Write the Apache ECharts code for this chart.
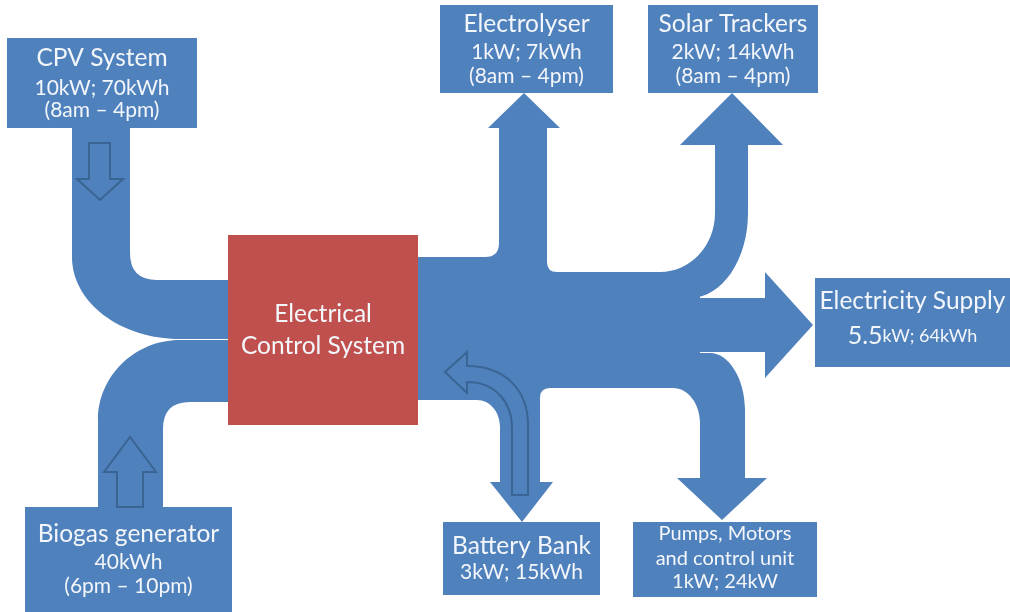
<!DOCTYPE html>
<html><head><meta charset="utf-8">
<script src="https://cdn.jsdelivr.net/npm/echarts@6/dist/echarts.min.js"></script>
<style>html,body{margin:0;padding:0;background:#fff}#c{width:1010px;height:612px}</style>
</head><body><div id="c"></div>
<script>
// ---------- DATA ----------
const nodeNames = ['CPV System', 'Electrolyser', 'Solar Trackers', 'Electricity Supply',
  'Pumps, Motors\nand control unit', 'Battery Bank', 'Biogas generator', 'Electrical\nControl System'];
const nodePowerKW = [10, 1, 2, 5.5, 1, 3, null, null];
const nodeEnergy = ['70kWh', '7kWh', '14kWh', '64kWh', '24kW', '15kWh', '40kWh', null];
const nodeHours = ['8am – 4pm', '8am – 4pm', '8am – 4pm', null, null, null, '6pm – 10pm', null];
const flowNames = ['CPV System → Control', 'Biogas generator → Control', 'Control trunk',
  'Control → Electrolyser', 'Control → Solar Trackers', 'Control → Electricity Supply',
  'Control → Pumps', 'Control ↔ Battery Bank'];
const directionMarks = ['CPV in', 'Biogas in', 'Battery discharge'];

// ---------- LAYOUT / STYLE (pixel-space coordinates on hidden axes) ----------
const BLUE = '#4F81BD', RED = '#C0504D', OUTLINE = '#3A6494', TXT = '#F3F6FA';
const FONT = 'Lato';
const nodeLayout = [
  { x: 7,   y: 38,  w: 190, h: 90,  fill: BLUE, lines: [[58, 24.5], [88, 21], [110, 21]] },
  { x: 440, y: 5,   w: 173, h: 88,  fill: BLUE, lines: [[24, 24.5], [52, 21], [76, 21]] },
  { x: 648, y: 5,   w: 170, h: 88,  fill: BLUE, lines: [[24, 24.5], [52, 21], [76, 21]] },
  { x: 815, y: 278, w: 195, h: 89,  fill: BLUE, lines: [[301, 24.5], [336, 18]], bigNumber: 25 },
  { x: 633, y: 522, w: 184, h: 75,  fill: BLUE, lines: [[534, 20], [559, 20], [582, 20]] },
  { x: 443, y: 522, w: 157, h: 73,  fill: BLUE, lines: [[546, 24.5], [572, 21]] },
  { x: 25,  y: 507, w: 207, h: 110, fill: BLUE, lines: [[534, 24.5], [562, 21], [586, 21]] },
  { x: 228, y: 235, w: 190, h: 190, fill: RED,  lines: [[314, 24.5], [346, 24.5]] }
];
const flowShapes = [
  ['M',72,126,'L',130,126,'L',130,253,'Q',130,280,157,280,'L',236,280,'L',236,339,'L',180,339,'C',120,339,72,302,72,257,'Z'],
  ['M',98,509,'L',98,420,'C',98,376,135,340,180,340,'L',236,340,'L',236,402,'L',190,402,'Q',163,402,163,429,'L',163,509,'Z'],
  ['M',410,257,'L',485,257,'Q',499,257,499,243,'L',547,243,'L',547,262,'Q',547,272,557,272,'L',700,272,'L',700,388,'L',500,388,'L',500,400,'L',410,400,'Z'],
  ['M',499,250,'L',499,128,'L',488,128,'L',524,93,'L',560,128,'L',547,128,'L',547,250,'Z'],
  ['M',660,272,'C',690,272,715,246,715,213,'L',715,145,'L',680,145,'L',732,93,'L',783,145,'L',748,145,'L',748,213,'C',748,260,722,298,690,298,'L',660,298,'Z'],
  ['M',680,298,'L',765,298,'L',765,272,'L',813,325,'L',765,378,'L',765,352,'L',680,352,'Z'],
  ['M',690,353,'L',710,353,'C',729,353,745,379,745,410,'L',745,478,'L',767,478,'L',722,520,'L',677,478,'L',700,478,'L',700,423,'C',700,404,688,388,673,388,'L',690,388,'Z'],
  ['M',500,388,'L',550,388,'Q',540,388,540,398,'L',540,482,'L',553,482,'L',522,522,'L',490,482,'L',500,482,'L',500,427,'C',500,412,490,400,477,400,'L',500,400,'Z']
];
const markShapes = [
  ['M',89,143,'L',110,143,'L',110,179,'L',123,179,'L',100,200,'L',77,179,'L',89,179,'Z'],
  ['M',117,507,'L',143,507,'L',143,472,'L',156,472,'L',130,437,'L',104,472,'L',117,472,'Z'],
  ['M',445,372,'L',467,352,'L',467,366,'C',505,366,528,390,528,425,'L',528,495,'L',512,495,'L',512,428,'C',512,402,495,382,467,382,'L',467,393,'Z']
];

function toPath(api, cmds) {
  const argc = { M: 1, L: 1, Q: 2, C: 3, Z: 0 };
  let s = '', i = 0;
  while (i < cmds.length) {
    const c = cmds[i++];
    s += c;
    for (let k = 0; k < argc[c]; k++) {
      const p = api.coord([cmds[i++], cmds[i++]]);
      s += ' ' + p[0].toFixed(1) + ' ' + p[1].toFixed(1);
    }
    s += ' ';
  }
  return s;
}

function nodeLines(i) {
  const lines = nodeNames[i].split('\n');
  const parts = [];
  if (nodePowerKW[i] != null) parts.push(nodePowerKW[i] + 'kW');
  if (nodeEnergy[i] != null) parts.push(nodeEnergy[i]);
  if (parts.length) lines.push(parts.join('; '));
  if (nodeHours[i] != null) lines.push('(' + nodeHours[i] + ')');
  return lines;
}

const chart = echarts.init(document.getElementById('c'), null, { renderer: 'canvas' });
chart.setOption({
  animation: false,
  backgroundColor: '#ffffff',
  grid: { left: 0, right: 0, top: 0, bottom: 0 },
  xAxis: { type: 'value', min: 0, max: 1010, show: false },
  yAxis: { type: 'value', min: 0, max: 612, inverse: true, show: false },
  series: [
    {
      type: 'custom', name: 'flows', silent: true,
      data: flowNames.map((n, i) => ({ name: n, value: [i] })),
      renderItem: (params, api) => ({
        type: 'path',
        shape: { pathData: toPath(api, flowShapes[params.dataIndex]) },
        style: { fill: BLUE, stroke: null }
      })
    },
    {
      type: 'custom', name: 'nodes', silent: true,
      data: nodeNames.map((n, i) => ({ name: n, value: [i] })),
      renderItem: (params, api) => {
        const i = params.dataIndex, L = nodeLayout[i];
        const p0 = api.coord([L.x, L.y]), p1 = api.coord([L.x + L.w, L.y + L.h]);
        const cx = (p0[0] + p1[0]) / 2;
        const children = [{
          type: 'rect',
          shape: { x: p0[0], y: p0[1], width: p1[0] - p0[0], height: p1[1] - p0[1] },
          style: { fill: L.fill }
        }];
        nodeLines(i).forEach((t, k) => {
          const yy = api.coord([0, L.lines[k][0]])[1];
          const size = L.lines[k][1];
          const style = { x: cx, y: yy, fill: TXT, fontFamily: FONT, fontSize: size,
                          align: 'center', verticalAlign: 'middle', text: t };
          if (L.bigNumber && k === 1 && nodePowerKW[i] != null) {
            const num = String(nodePowerKW[i]);
            style.text = '{big|' + num + '}{small|' + t.slice(num.length) + '}';
            style.rich = {
              big: { fontSize: L.bigNumber, fontFamily: FONT, fill: TXT },
              small: { fontSize: size, fontFamily: FONT, fill: TXT }
            };
          }
          children.push({ type: 'text', style });
        });
        return { type: 'group', children };
      }
    },
    {
      type: 'custom', name: 'direction', silent: true, z: 3,
      data: directionMarks.map((n, i) => ({ name: n, value: [i] })),
      renderItem: (params, api) => ({
        type: 'path',
        shape: { pathData: toPath(api, markShapes[params.dataIndex]) },
        style: { fill: null, stroke: OUTLINE, lineWidth: 2, lineJoin: 'miter' }
      })
    }
  ]
});
</script>
</body></html>
